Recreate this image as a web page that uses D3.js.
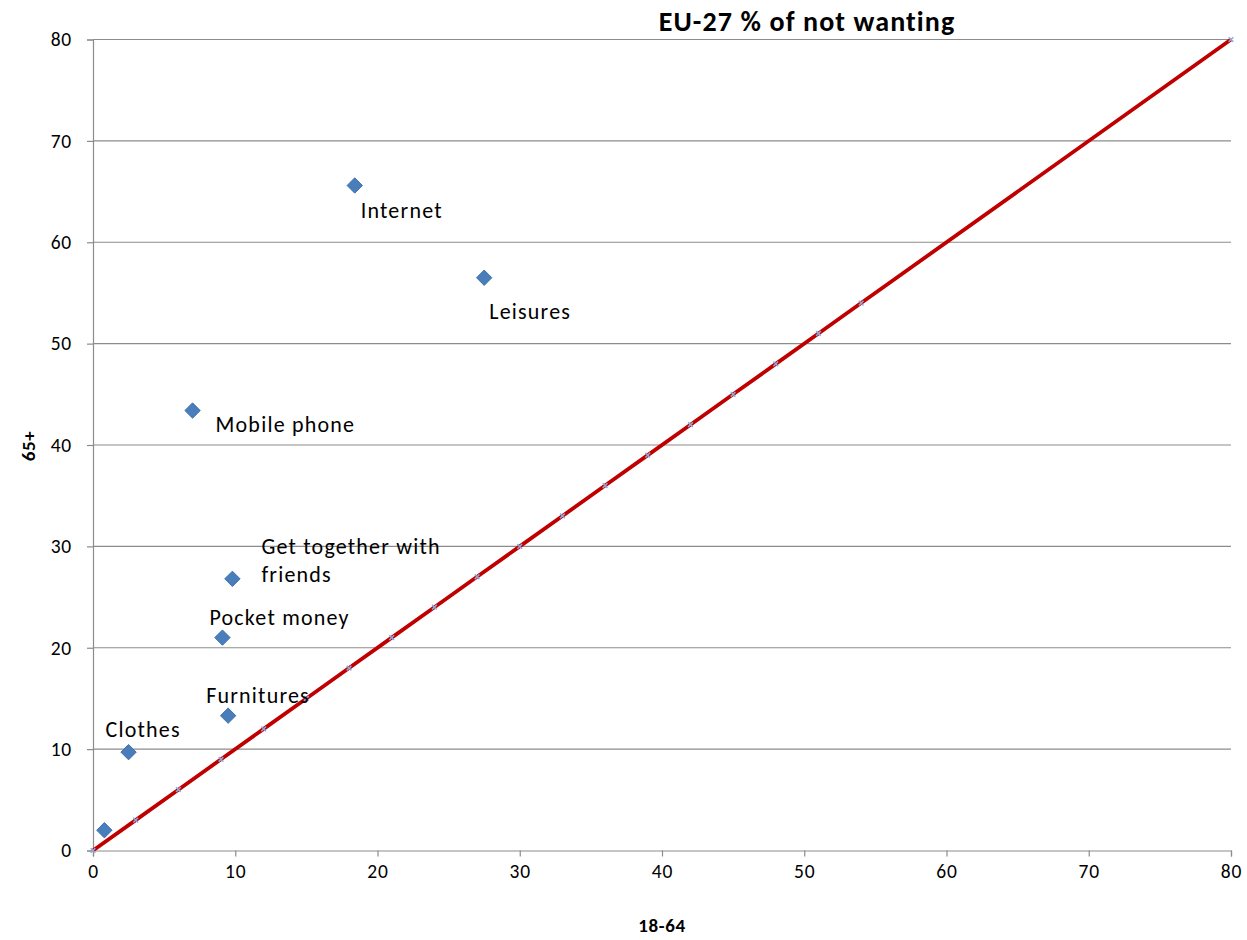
<!DOCTYPE html>
<html>
<head>
<meta charset="utf-8">
<script src="https://cdn.jsdelivr.net/npm/d3@7"></script>
<style>
  body { margin: 0; background: #fff; }
  svg { display: block; font-family: Carlito, Calibri, "Open Sans", "Liberation Sans", sans-serif; }
</style>
</head>
<body>
<svg id="chart" width="1247" height="940"></svg>
<script>
// Categories and their share of "not wanting" (18-64 vs 65+)
const categories = ["Internet", "Leisures", "Mobile phone", "Get together with friends", "Pocket money", "Furnitures", "Clothes", ""];
const age18to64 = [18.4, 27.5, 7.0, 9.8, 9.1, 9.5, 2.5, 0.8];
const age65plus = [65.6, 56.5, 43.4, 26.8, 21.0, 13.3, 9.7, 2.0];

// Reference line (equal shares)
const refX = [0, 3, 6, 9, 12, 15, 18, 21, 24, 27, 30, 33, 36, 39, 42, 45, 48, 51, 54, 80];
const refY = [0, 3, 6, 9, 12, 15, 18, 21, 24, 27, 30, 33, 36, 39, 42, 45, 48, 51, 54, 80];

const tickValues = [0, 10, 20, 30, 40, 50, 60, 70, 80];

// Label placement relative to each marker (dx, dy in px)
const labelOffsets = [[6, 27], [5, 36], [23, 16], [29, -30], [-13, -18], [-22, -18], [-23, -20], [0, 0]];

const FONT = "Carlito, Calibri, 'Open Sans', 'Liberation Sans', sans-serif";
const svg = d3.select("#chart");
const x = d3.scaleLinear().domain([0, 80]).range([93, 1231]);
const y = d3.scaleLinear().domain([0, 80]).range([850.5, 39.5]);

// Horizontal gridlines
svg.append("g")
  .selectAll("line")
  .data(tickValues.filter(d => d > 0))
  .join("line")
  .attr("x1", x(0)).attr("x2", x(80))
  .attr("y1", d => y(d)).attr("y2", d => y(d))
  .attr("stroke", "#8c8c8c").attr("stroke-width", 1.2);

// Axes
const xAxis = svg.append("g")
  .attr("transform", `translate(0,${y(0)})`)
  .call(d3.axisBottom(x).tickValues(tickValues).tickSize(6).tickPadding(8));
const yAxis = svg.append("g")
  .attr("transform", `translate(${x(0)},0)`)
  .call(d3.axisLeft(y).tickValues(tickValues).tickSize(6).tickPadding(15));
[xAxis, yAxis].forEach(g => {
  g.select(".domain").attr("stroke", "#8c8c8c").attr("stroke-width", 1.2);
  g.selectAll(".tick line").attr("stroke", "#8c8c8c").attr("stroke-width", 1.2);
  g.selectAll(".tick text").attr("fill", "#000").attr("font-size", 19.5)
    .attr("letter-spacing", 0.8)
    .attr("font-family", FONT);
});

// Equal-share line
const line = d3.line().x(d => x(d[0])).y(d => y(d[1]));
const refPts = refX.map((v, i) => [v, refY[i]]);
svg.append("path")
  .datum(refPts)
  .attr("d", line)
  .attr("fill", "none")
  .attr("stroke", "#c00000")
  .attr("stroke-width", 3.8);

// Small cross markers on the line
const cross = d3.symbol().type(d3.symbolX).size(16);
svg.append("g")
  .selectAll("path")
  .data(refPts)
  .join("path")
  .attr("d", cross)
  .attr("transform", d => `translate(${x(d[0])},${y(d[1])})`)
  .attr("fill", "none")
  .attr("stroke", "#8fa8d8")
  .attr("stroke-width", 1.5);

// Category markers
const diamond = d3.symbol().type(d3.symbolDiamond2).size(150);
svg.append("g")
  .selectAll("path")
  .data(categories)
  .join("path")
  .attr("d", diamond)
  .attr("transform", (d, i) => `translate(${x(age18to64[i])},${y(age65plus[i])})`)
  .attr("fill", "#4a7ebb")
  .attr("stroke", "#3f70ad")
  .attr("stroke-width", 1);

// Category labels
const labels = svg.append("g")
  .attr("font-size", 22)
  .attr("letter-spacing", 1.2)
  .attr("fill", "#000");
categories.forEach((name, i) => {
  if (!name) return;
  const px = x(age18to64[i]) + labelOffsets[i][0];
  const py = y(age65plus[i]) + labelOffsets[i][1];
  const t = labels.append("text").attr("x", px).attr("y", py).attr("dominant-baseline", "middle");
  if (name === "Get together with friends") {
    t.append("tspan").attr("x", px).text("Get together with");
    t.append("tspan").attr("x", px).attr("dy", 28).text("friends");
  } else {
    t.text(name);
  }
});

// Title
svg.append("text")
  .attr("x", 807).attr("y", 24)
  .attr("text-anchor", "middle")
  .attr("dominant-baseline", "middle")
  .attr("font-size", 28).attr("font-weight", "bold")
  .attr("letter-spacing", 1.1)
  .text("EU-27 % of not wanting");

// Axis titles
svg.append("text")
  .attr("x", 662).attr("y", 927)
  .attr("text-anchor", "middle")
  .attr("dominant-baseline", "middle")
  .attr("font-size", 19).attr("font-weight", "bold")
  .attr("letter-spacing", 0.6)
  .text("18-64");
svg.append("text")
  .attr("transform", "translate(30,446) rotate(-90)")
  .attr("text-anchor", "middle")
  .attr("dominant-baseline", "middle")
  .attr("font-size", 19).attr("font-weight", "bold")
  .attr("letter-spacing", 0.6)
  .text("65+");
</script>
</body>
</html>
